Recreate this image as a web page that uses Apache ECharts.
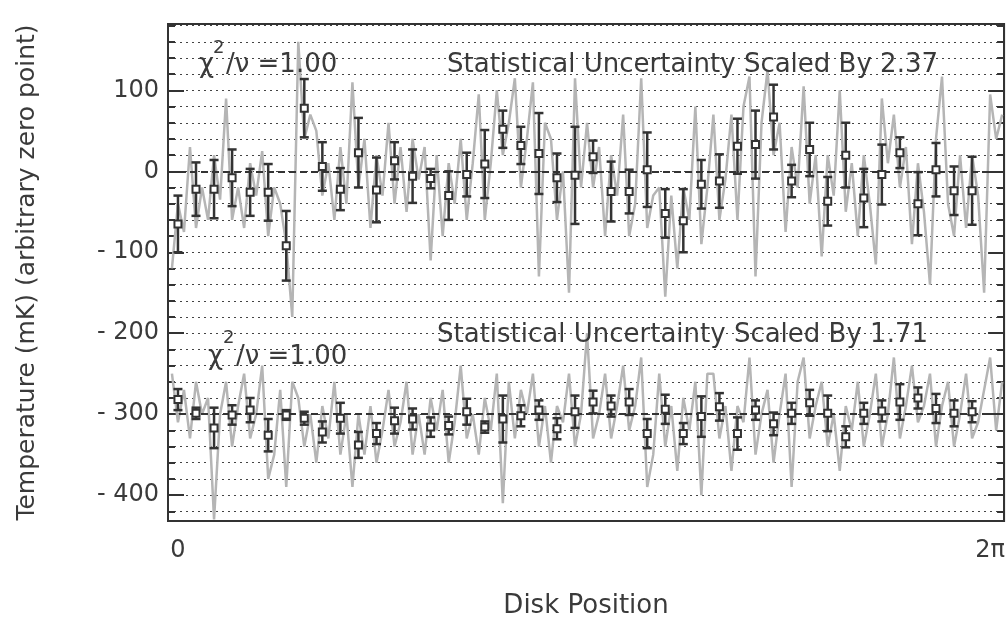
<!DOCTYPE html>
<html>
<head>
<meta charset="utf-8">
<script src="https://cdn.jsdelivr.net/npm/echarts@6/dist/echarts.min.js"></script>
<style>
html,body{margin:0;padding:0;background:#fff}
#chart{width:1008px;height:624px}
</style>
</head>
<body>
<div id="chart"></div>
<script>
// binned points, 45 bins over one disk turn
var binCount=45
var upperMean=[-65,-22,-22,-8,-26,-26,-92,78,6,-22,23,-23,13,-6,-9,-30,-4,9,52,32,22,-8,-5,18,-25,-25,2,-52,-61,-16,-12,31,33,67,-12,27,-37,20,-33,-4,23,-40,2,-24,-24]
var upperErr=[35,33,36,35,29,35,43,36,30,26,43,40,23,33,12,30,27,42,23,23,50,30,60,20,37,27,46,30,39,30,33,34,42,40,20,33,30,40,36,37,19,39,33,30,42]
var lowerMean=[-282,-299,-317,-301,-295,-326,-301,-305,-322,-305,-338,-324,-308,-306,-316,-314,-297,-316,-306,-302,-295,-318,-297,-285,-290,-285,-324,-294,-324,-303,-291,-324,-295,-312,-299,-286,-299,-328,-299,-296,-285,-280,-293,-299,-297]
var lowerErr=[13,7,25,12,15,20,6,8,13,19,16,13,16,13,12,11,16,7,29,13,12,13,20,14,13,16,18,18,13,25,17,20,12,14,13,16,22,13,13,13,22,13,18,16,13]

// raw scans (grey), 3 samples per bin, first sample just left of 0
var rawUpper=[-120,-40,-75, 30,-70,-20, -60,20,-35, 90,-60,-20, -70,10,-30, 25,-80,-20, -40,-90,-180, 160,40,70,
  50,-30,10, -60,30,-40, 110,-20,40, -70,20,-30, 60,-40,30, -50,40,-10, 30,-110,20, -80,10,-40,
  40,-60,10, 95,-60,10, 100,20,60, 115,-20,40, 110,-130,60, 40,-60,0, -150,115,-20, 60,-20,30,
  -80,20,-30, 70,-80,-40, 115,-70,-30, -20,-155,-30, -120,-20,-60, 80,-90,-20, 70,-60,-10, 70,-60,80,
  117,-130,60, 125,20,60, -75,30,-20, 105,-40,20, -105,20,-30, 100,-50,10, -80,20,-40, -115,90,10,
  70,-20,30, -90,10,-50, -140,40,117, -40,-80,20, -70,20,-30, -150,95,40,70]
var rawLower=[-250,-310,-270, -330,-260,-300, -280,-430,-300, -260,-340,-290, -250,-330,-300, -240,-380,-350, -270,-390,-260, -280,-340,-300,
  -360,-290,-330, -260,-350,-300, -390,-300,-350, -290,-360,-320, -270,-340,-310, -260,-350,-300, -350,-280,-320, -270,-360,-310,
  -240,-330,-300, -350,-280,-320, -250,-410,-260, -330,-270,-300, -250,-340,-290, -360,-290,-310, -250,-340,-300, -200,-330,-300,
  -250,-330,-290, -240,-320,-290, -230,-390,-350, -250,-340,-290, -370,-280,-320, -260,-400,-250, -250,-330,-290, -370,-290,-310,
  -230,-350,-300, -270,-360,-300, -250,-390,-260, -230,-330,-290, -260,-340,-300, -370,-290,-320, -260,-340,-300, -250,-340,-300,
  -230,-330,-290, -240,-310,-290, -250,-340,-290, -260,-340,-300, -250,-330,-310, -270,-230,-320,-260]

var fitLevels=[0,-300]
var yMajorTicks=[100,0,-100,-200,-300,-400]
var yMinorTicks=[-420,-400,-380,-360,-340,-320,-300,-280,-260,-240,-220,-200,-180,-160,-140,-120,-100,-80,-60,-40,-20,0,20,40,60,80,100,120,140,160,180]
var xTicks=[0,2*Math.PI]

var TWO_PI=2*Math.PI
function binSeries(mean,err){
    var out=[]
    for(var k=0;k<mean.length;k++){
        out.push([k*TWO_PI/binCount,mean[k],err[k]])
    }
    return out
}
function rawSeries(vals){
    var out=[]
    for(var j=0;j<vals.length;j++){
        out.push([(j-1)*TWO_PI/(binCount*3),vals[j]])
    }
    return out
}

var ink='#333'
var textColor='#3a3a3a'
function errorBarItem(params,api){
    var x=api.value(0),y=api.value(1),e=api.value(2)
    var p=api.coord([x,y]),hi=api.coord([x,y+e]),lo=api.coord([x,y-e])
    var cap=4.5,sq=3.5
    var ls={stroke:ink,lineWidth:2.5}
    return {type:'group',children:[
        {type:'line',shape:{x1:p[0],y1:hi[1],x2:p[0],y2:lo[1]},style:ls},
        {type:'line',shape:{x1:p[0]-cap,y1:hi[1],x2:p[0]+cap,y2:hi[1]},style:ls},
        {type:'line',shape:{x1:p[0]-cap,y1:lo[1],x2:p[0]+cap,y2:lo[1]},style:ls},
        {type:'rect',shape:{x:p[0]-sq,y:p[1]-sq,width:2*sq,height:2*sq},style:{fill:'#fff',stroke:ink,lineWidth:2}}
    ]}
}

function yAx(pos,ticks,len,labels){
    var a={type:'value',min:-432,max:182,position:pos,
        axisLine:{show:true,onZero:false,lineStyle:{color:ink,width:2}},
        axisTick:{show:true,inside:true,length:len,customValues:ticks,lineStyle:{color:ink,width:2}},
        axisLabel:{show:false},
        splitLine:{show:false}}
    if(labels){
        a.axisLabel={show:true,customValues:yMajorTicks,margin:9,fontSize:24,color:textColor,fontFamily:'DejaVu Sans',
            formatter:function(v){return v<0?'- '+(-v):''+v}}
        a.name='Temperature (mK) (arbitrary zero point)'
        a.nameLocation='middle'
        a.nameGap=128
        a.nameTextStyle={fontSize:25,color:textColor,fontFamily:'DejaVu Sans'}
    }
    return a
}

var yAxes=[yAx('left',yMinorTicks,7,false),yAx('left',yMajorTicks,16,true),yAx('right',yMinorTicks,7,false),yAx('right',yMajorTicks,16,false)]
yAxes[0].splitLine={show:true,lineStyle:{color:'#444',width:1,type:[2,4]}}

var chart=echarts.init(document.getElementById('chart'))
var txt={fill:textColor,fontFamily:'DejaVu Sans',fontSize:26}
chart.setOption({
    animation:false,
    backgroundColor:'#fff',
    grid:{left:168,right:3,top:24,bottom:101,show:true,borderColor:ink,borderWidth:2,backgroundColor:'transparent'},
    xAxis:{type:'value',min:-0.077,max:6.391,
        axisLine:{show:false},axisTick:{show:false},splitLine:{show:false},
        axisLabel:{customValues:xTicks,margin:18,fontSize:24,color:textColor,fontFamily:'DejaVu Sans',
            formatter:function(v){return v<1?'0':'2π'}},
        name:'Disk Position',nameLocation:'middle',nameGap:72,
        nameTextStyle:{fontSize:26,color:textColor,fontFamily:'DejaVu Sans'}},
    yAxis:yAxes,
    series:[
        {type:'line',data:rawSeries(rawUpper),showSymbol:false,lineStyle:{color:'#b5b5b5',width:2.5},z:1},
        {type:'line',data:rawSeries(rawLower),showSymbol:false,lineStyle:{color:'#b5b5b5',width:2.5},z:1},
        {type:'custom',data:binSeries(upperMean,upperErr),renderItem:errorBarItem,z:5,
            markLine:{silent:true,symbol:'none',label:{show:false},data:[{yAxis:fitLevels[0]}],lineStyle:{color:ink,width:2,type:[7,4]}}},
        {type:'custom',data:binSeries(lowerMean,lowerErr),renderItem:errorBarItem,z:5,
            markLine:{silent:true,symbol:'none',label:{show:false},data:[{yAxis:fitLevels[1]}],lineStyle:{color:ink,width:2,type:[7,4]}}}
    ],
    graphic:[
        {type:'text',left:199,top:52,z:10,style:Object.assign({text:'χ'},txt)},
        {type:'text',left:213,top:39,z:10,style:Object.assign({text:'2'},txt,{fontSize:18})},
        {type:'text',left:226,top:52,z:10,style:Object.assign({text:'/ν =1.00'},txt)},
        {type:'text',left:447,top:52,z:10,style:Object.assign({text:'Statistical Uncertainty Scaled By 2.37'},txt)},
        {type:'text',left:208,top:344,z:10,style:Object.assign({text:'χ'},txt)},
        {type:'text',left:223,top:329,z:10,style:Object.assign({text:'2'},txt,{fontSize:18})},
        {type:'text',left:236,top:344,z:10,style:Object.assign({text:'/ν =1.00'},txt)},
        {type:'text',left:437,top:322,z:10,style:Object.assign({text:'Statistical Uncertainty Scaled By 1.71'},txt)}
    ]
})
</script>
</body>
</html>
